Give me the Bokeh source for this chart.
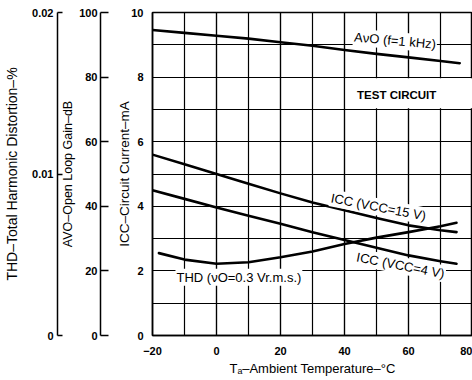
from bokeh.plotting import figure
from bokeh.models import (Range1d, LinearAxis, FixedTicker, SingleIntervalTicker,
                          Label, BoxAnnotation)
from bokeh.embed import file_html
from bokeh.resources import INLINE

# ---- data ----
temp_avo = [-20, -10, 0, 10, 20, 30, 40, 50, 60, 70, 76]
avo_db = [94.6, 93.7, 92.8, 91.9, 90.8, 89.7, 88.4, 87.2, 86.1, 85.0, 84.3]

temp_icc = [-20, -10, 0, 10, 20, 30, 40, 50, 60, 70, 75]
icc_15v = [5.6, 5.3, 5.0, 4.7, 4.4, 4.12, 3.88, 3.64, 3.41, 3.26, 3.2]
icc_4v = [4.5, 4.23, 3.96, 3.71, 3.46, 3.2, 2.96, 2.72, 2.48, 2.3, 2.22]

temp_thd = [-18, -10, 0, 10, 20, 30, 40, 50, 60, 70, 75]
thd_pct = [0.0051, 0.0047, 0.00444, 0.00454, 0.00484, 0.0052, 0.00566,
           0.00606, 0.0064, 0.00676, 0.00698]

x_tick_step = 20
icc_tick_step = 2
avo_ticks = [0, 20, 40, 60, 80, 100]
thd_ticks = [0, 0.01, 0.02]
thd_tick_labels = ["0", "0.01", "0.02"]

FONT = "Liberation Sans"

p = figure(width=472, height=378, output_backend="svg", toolbar_location=None,
           x_range=Range1d(-20, 80), y_range=Range1d(0, 10),
           min_border_left=152, min_border_right=0, min_border_top=12,
           min_border_bottom=20)
p.extra_y_ranges = {"avo": Range1d(0, 100), "thd": Range1d(0, 0.02)}
p.outline_line_color = "black"
p.outline_line_width = 1.5
p.outline_line_alpha = 1.0
p.background_fill_color = "white"
p.border_fill_color = "white"


def style_axis(ax, title_size="13px"):
    ax.axis_line_color = "black"
    ax.axis_line_width = 1.5
    ax.major_tick_line_color = "black"
    ax.major_tick_line_width = 1.5
    ax.minor_tick_line_color = None
    ax.major_label_text_font = FONT
    ax.major_label_text_font_style = "bold"
    ax.major_label_text_font_size = "11px"
    ax.major_label_text_color = "black"
    ax.axis_label_text_font = FONT
    ax.axis_label_text_font_style = "normal"
    ax.axis_label_text_font_size = title_size
    ax.axis_label_text_color = "black"


# x axis
xa = p.xaxis[0]
xa.ticker = SingleIntervalTicker(interval=x_tick_step, num_minor_ticks=2)
style_axis(xa, "13px")
xa.major_tick_out = 0
xa.major_tick_in = 0
xa.major_label_standoff = 7
xa.axis_label = "Tₐ–Ambient Temperature–°C"
xa.axis_label_standoff = 3
xa.major_label_overrides = {-20: "−20"}

# main y axis (ICC)
ya = p.yaxis[0]
ya.ticker = SingleIntervalTicker(interval=icc_tick_step, num_minor_ticks=2)
style_axis(ya, "13.5px")
ya.major_tick_out = 0
ya.major_tick_in = 0
ya.major_label_standoff = 5
ya.axis_label = "ICC–Circuit Current–mA"
ya.axis_label_standoff = -4

# grid
for g in (p.xgrid[0], p.ygrid[0]):
    g.grid_line_color = "black"
    g.grid_line_width = 1.2
    g.grid_line_alpha = 1.0
    g.minor_grid_line_color = "black"
    g.minor_grid_line_width = 1.2
    g.minor_grid_line_alpha = 1.0


def spacer(px):
    s = LinearAxis(ticker=FixedTicker(ticks=[5]))
    s.major_label_overrides = {5: ""}
    s.major_tick_out = px
    s.major_tick_in = 0
    s.axis_line_color = None
    s.major_tick_line_color = None
    s.minor_tick_line_color = None
    s.major_label_standoff = 0
    s.major_label_text_font_size = "1px"
    return s


p.add_layout(spacer(14), "left")

avo_axis = LinearAxis(y_range_name="avo", ticker=FixedTicker(ticks=avo_ticks))
style_axis(avo_axis, "12.5px")
avo_axis.major_tick_out = 0
avo_axis.major_tick_in = 8
avo_axis.major_label_standoff = 3
avo_axis.axis_label = "AVO–Open Loop Gain–dB"
avo_axis.axis_label_standoff = 1
p.add_layout(avo_axis, "left")

p.add_layout(spacer(1), "left")

thd_axis = LinearAxis(y_range_name="thd", ticker=FixedTicker(ticks=thd_ticks))
style_axis(thd_axis, "14px")
thd_axis.major_tick_out = 0
thd_axis.major_tick_in = 5
thd_axis.major_label_standoff = 4
thd_axis.major_label_overrides = dict(zip(thd_ticks, thd_tick_labels))
thd_axis.axis_label = "THD–Total Harmonic Distortion–%"
thd_axis.axis_label_standoff = 9
p.add_layout(thd_axis, "left")

# white cell behind TEST CIRCUIT
p.add_layout(BoxAnnotation(left=40.35, right=80, bottom=7.035, top=7.965,
                           fill_color="white", fill_alpha=1.0, line_color=None))

# curves
lw = 2.6
p.line(temp_avo, avo_db, y_range_name="avo", line_width=lw, color="black",
       line_join="round", line_cap="round")
p.line(temp_icc, icc_15v, line_width=lw, color="black",
       line_join="round", line_cap="round")
p.line(temp_icc, icc_4v, line_width=lw, color="black",
       line_join="round", line_cap="round")
p.line(temp_thd, thd_pct, y_range_name="thd", line_width=lw, color="black",
       line_join="round", line_cap="round")


def lab(x, y, text, angle=0, size="13px", bold=False, align="center",
        baseline="middle", bg=True):
    kw = dict(x=x, y=y, text=text, angle=angle, angle_units="deg",
              text_font=FONT, text_font_size=size,
              text_font_style="bold" if bold else "normal",
              text_color="black", text_align=align, text_baseline=baseline)
    if bg:
        kw.update(background_fill_color="white", background_fill_alpha=1.0,
                  padding=1)
    p.add_layout(Label(**kw))


lab(42.5, 8.98, "AνO (f=1 kHz)", angle=-5, align="left", baseline="bottom")
lab(56.3, 7.45, "TEST CIRCUIT", size="11.5px", bold=True, bg=False)
lab(7.0, 1.8, "THD (νO=0.3 Vr.m.s.)")
lab(50.6, 3.98, "ICC (VCC=15 V)", angle=-11)
lab(57.5, 2.17, "ICC (VCC=4 V)", angle=-11)

open("out.html", "w").write(file_html(p, INLINE))
